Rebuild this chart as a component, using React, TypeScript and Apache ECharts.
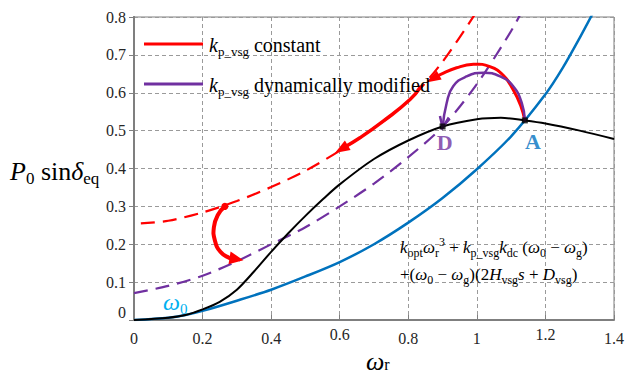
import React, { useEffect, useRef } from 'react';
import * as echarts from 'echarts';

const xTicks = [0, 0.2, 0.4, 0.6, 0.8, 1, 1.2, 1.4];
const raisedXTicks = [0.6, 1.2];

const blueCurve: number[][] = [[0,0],[0.1,0.006],[0.15,0.013],[0.2,0.024],[0.3,0.051],[0.4,0.08],[0.5,0.115],[0.6,0.153],[0.7,0.2],[0.8,0.257],[0.9,0.322],[1.0,0.398],[1.1,0.485],[1.2,0.596],[1.25,0.665],[1.3,0.745],[1.35,0.83]];
const blackCurve: number[][] = [[0,0],[0.1,0.006],[0.15,0.013],[0.2,0.028],[0.25,0.048],[0.3,0.08],[0.35,0.128],[0.4,0.18],[0.45,0.229],[0.5,0.275],[0.55,0.318],[0.6,0.358],[0.7,0.425],[0.8,0.474],[0.9,0.511],[1.0,0.53],[1.07,0.534],[1.14,0.527],[1.2,0.519],[1.3,0.5],[1.4,0.478]];
const redDashed: number[][] = [[0.02,0.255],[0.1,0.262],[0.2,0.284],[0.3,0.314],[0.4,0.351],[0.5,0.394],[0.6,0.447],[0.7,0.507],[0.8,0.578],[0.9,0.682],[1.0,0.815]];
const purpleDashed: number[][] = [[0,0.071],[0.1,0.09],[0.2,0.117],[0.3,0.155],[0.4,0.2],[0.5,0.245],[0.6,0.3],[0.7,0.36],[0.8,0.43],[0.9,0.51],[1.0,0.623],[1.1,0.763],[1.14,0.83]];

const arrowRedTop: number[][] = [[1.14,0.527],[1.128,0.566],[1.106,0.608],[1.077,0.646],[1.038,0.669],[0.99,0.675],[0.941,0.666],[0.893,0.648],[0.852,0.627]];
const arrowRedSlide: number[][] = [[0.835,0.615],[0.805,0.582],[0.727,0.525],[0.659,0.481],[0.586,0.441]];
const arrowRedDrop: number[][] = [[0.265,0.3],[0.245,0.278],[0.233,0.245],[0.236,0.21],[0.252,0.18],[0.278,0.164],[0.319,0.158]];
const arrowPurple: number[][] = [[1.14,0.527],[1.131,0.573],[1.106,0.617],[1.068,0.643],[1.019,0.653],[0.97,0.643],[0.931,0.617],[0.912,0.573],[0.9,0.508]];

const pointA = [1.14, 0.527];
const pointD = [0.9, 0.511];

const RED = '#FF0000';
const PURPLE = '#7030A0';
const BLUE = '#0072BD';
const LIGHTBLUE = '#00B0F0';
const SERIF = 'Liberation Serif';
const QSERIF = "'Liberation Serif'";

function arrowSeries(pts: number[][], color: string, width: number, headLen: number, headW: number, open: boolean, bulb = 0) {
  return {
    type: 'custom',
    coordinateSystem: 'cartesian2d',
    silent: true,
    z: 5,
    data: pts,
    renderItem: (params: any, api: any) => {
      if (params.dataIndex !== 0) return null;
      const c = pts.map((p) => api.coord(p));
      const n = c.length;
      const tip = c[n - 1];
      const prev = c[n - 2];
      let dx = tip[0] - prev[0];
      let dy = tip[1] - prev[1];
      const len = Math.hypot(dx, dy) || 1;
      dx /= len; dy /= len;
      const bx = tip[0] - dx * headLen;
      const by = tip[1] - dy * headLen;
      const left = [bx - dy * headW / 2, by + dx * headW / 2];
      const right = [bx + dy * headW / 2, by - dx * headW / 2];
      const linePts = open ? c : c.slice(0, n - 1).concat([[bx + dx * 3, by + dy * 3]]);
      const children: any[] = [
        { type: 'polyline', shape: { points: linePts, smooth: 0.5 }, style: { stroke: color, lineWidth: width, fill: null, lineCap: 'round' } },
      ];
      if (open) {
        children.push({ type: 'polyline', shape: { points: [left, tip, right] }, style: { stroke: color, lineWidth: width, fill: null } });
      } else {
        children.push({ type: 'polygon', shape: { points: [tip, left, right] }, style: { fill: color } });
      }
      if (bulb > 0) {
        children.push({ type: 'circle', shape: { cx: c[0][0], cy: c[0][1], r: bulb }, style: { fill: color } });
      }
      return { type: 'group', children };
    },
  };
}

// zrender-level rich tokens: use `font` shorthand and `fill`
const zRich = (size: number, sub: number, color = '#000', lh = size + 6) => ({
  i: { font: `italic ${size}px ${QSERIF}`, lineHeight: lh, fill: color },
  n: { font: `${size}px ${QSERIF}`, lineHeight: lh, fill: color },
  s: { font: `${sub}px ${QSERIF}`, lineHeight: sub, verticalAlign: 'bottom', fill: color },
  sup: { font: `${sub}px ${QSERIF}`, lineHeight: sub, verticalAlign: 'top', fill: color },
});

export default function App() {
  const ref = useRef<HTMLDivElement>(null);
  useEffect(() => {
    document.body.style.margin = '0';
    if (!ref.current) return;
    const chart = echarts.init(ref.current, null, { renderer: 'svg' });
    const fmt = (v: number) => String(Number(v.toFixed(2)));
    const gridLine = { show: true, lineStyle: { color: '#9a9a9a', type: [4, 3], width: 1 } };
    const axisGray = '#7f7f7f';
    const labelBase = { fontFamily: SERIF, fontSize: 16, color: '#262626' };
    const lineSeries = (data: number[][], color: string, width: number, dashed: boolean, z: number) => ({
      type: 'line', data, smooth: 0.3, showSymbol: false, symbol: 'none',
      lineStyle: { color, width, type: dashed ? [14, 8] : 'solid' }, z,
    });
    const hidden = { axisLine: { show: false }, axisTick: { show: false }, splitLine: { show: false } };
    chart.setOption({
      animation: false,
      backgroundColor: '#fff',
      textStyle: { fontFamily: SERIF },
      grid: { left: 134, right: 15, top: 17, bottom: 55, show: true, borderColor: axisGray, borderWidth: 1 },
      xAxis: [
        {
          type: 'value', min: 0, max: 1.4, interval: 0.2, position: 'bottom',
          axisLine: { show: true, lineStyle: { color: axisGray, width: 2 } },
          axisTick: { show: true, inside: true, length: 5, lineStyle: { color: axisGray } },
          splitLine: gridLine,
          axisLabel: {
            ...labelBase, margin: 10,
            formatter: (v: number) => (raisedXTicks.includes(Number(fmt(v))) ? '' : fmt(v)),
          },
        },
        {
          type: 'value', min: 0, max: 1.4, interval: 0.2, position: 'bottom', offset: 0, ...hidden,
          axisLabel: {
            ...labelBase, margin: 6,
            formatter: (v: number) => (raisedXTicks.includes(Number(fmt(v))) ? fmt(v) : ''),
          },
        },
      ],
      yAxis: [
        {
          type: 'value', min: 0, max: 0.8, interval: 0.1, position: 'left',
          axisLine: { show: true, lineStyle: { color: axisGray, width: 2 } },
          axisTick: { show: false },
          splitLine: gridLine,
          axisLabel: {
            ...labelBase, margin: 8, padding: [5, 0, 0, 0],
            formatter: (v: number) => (fmt(v) === '0' ? '' : fmt(v)),
          },
        },
        {
          type: 'value', min: 0, max: 0.8, interval: 0.1, position: 'right',
          axisLine: { show: true, lineStyle: { color: axisGray, width: 2 } },
          axisTick: { show: true, inside: true, length: 5, lineStyle: { color: axisGray } },
          axisLabel: { show: false },
          splitLine: { show: false },
        },
        {
          type: 'value', min: 0, max: 0.8, interval: 0.1, position: 'left', offset: 0, ...hidden,
          axisLabel: {
            ...labelBase, margin: 8, verticalAlign: 'bottom',
            formatter: (v: number) => (fmt(v) === '0' ? '0' : ''),
          },
        },
      ],
      series: [
        lineSeries(redDashed, RED, 2.2, true, 3),
        lineSeries(purpleDashed, PURPLE, 2.2, true, 3),
        lineSeries(blueCurve, BLUE, 2.5, false, 3),
        lineSeries(blackCurve, '#000', 2, false, 4),
        arrowSeries(arrowRedTop, RED, 3, 15, 10, false),
        arrowSeries(arrowRedSlide, RED, 3.5, 15, 11, false),
        arrowSeries(arrowRedDrop, RED, 4, 14, 13, false, 3.5),
        arrowSeries(arrowPurple, PURPLE, 2.5, 11, 9, true),
        {
          type: 'scatter', symbol: 'rect', symbolSize: 6, z: 6,
          itemStyle: { color: '#000' },
          data: [
            { value: pointA, label: { show: true, formatter: 'A', position: 'bottom', distance: 5, offset: [8, 2], color: '#0070C0', fontFamily: SERIF, fontWeight: 'bold', fontSize: 22 } },
            { value: pointD, label: { show: true, formatter: 'D', position: 'bottom', distance: 5, offset: [2, -3], color: PURPLE, fontFamily: SERIF, fontWeight: 'bold', fontSize: 22 } },
          ],
        },
      ],
      graphic: [
        { type: 'line', shape: { x1: 144, y1: 44, x2: 203, y2: 44 }, style: { stroke: RED, lineWidth: 3 }, z: 10 },
        { type: 'line', shape: { x1: 144, y1: 84, x2: 203, y2: 84 }, style: { stroke: PURPLE, lineWidth: 3 }, z: 10 },
        { type: 'text', x: 209, y: 45, z: 10, style: { text: '{i|k}{s|p_vsg}{n| constant}', rich: zRich(20, 13), verticalAlign: 'middle', align: 'left' } },
        { type: 'text', x: 209, y: 85, z: 10, style: { text: '{i|k}{s|p_vsg}{n| dynamically modified}', rich: zRich(20, 13), verticalAlign: 'middle', align: 'left' } },
        { type: 'text', x: 400, y: 247, z: 10, style: { text: '{i|k}{s|opt}{i|ω}{s|r}{sup|3}{n| + }{i|k}{s|p_vsg}{i|k}{s|dc}{n| (}{i|ω}{s|0}{n| − }{i|ω}{s|g}{n|)}', rich: zRich(17, 12), verticalAlign: 'middle', align: 'left' } },
        { type: 'text', x: 400, y: 274, z: 10, style: { text: '{n|+(}{i|ω}{s|0}{n| − }{i|ω}{s|g}{n|)(2}{i|H}{s|vsg}{i|s}{n| + }{i|D}{s|vsg}{n|)}', rich: zRich(17, 12), verticalAlign: 'middle', align: 'left' } },
        { type: 'text', x: 163, y: 302, z: 10, style: { text: '{i|ω}{s|0}', rich: zRich(24, 15, LIGHTBLUE, 28), verticalAlign: 'middle', align: 'left' } },
        { type: 'text', x: 10, y: 171, z: 10, style: { text: '{i|P}{s|0}{n| sin}{i|δ}{s|eq}', rich: zRich(26, 17), verticalAlign: 'middle', align: 'left' } },
        { type: 'text', x: 366, y: 361, z: 10, style: { text: '{i|ω}{s|r}', rich: zRich(26, 16, '#000', 22), verticalAlign: 'middle', align: 'left' } },
      ],
    });
    return () => chart.dispose();
  }, []);
  return <div ref={ref} style={{ width: 629, height: 375 }} />;
}
